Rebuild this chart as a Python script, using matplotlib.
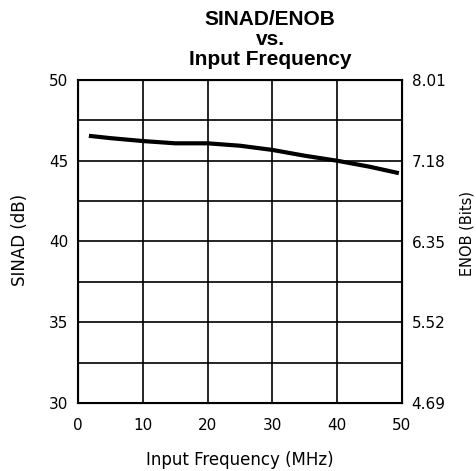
import matplotlib
matplotlib.use("Agg")
import matplotlib.pyplot as plt

freq = [2, 5, 10, 15, 20, 25, 30, 35, 40, 45, 49.2]
sinad = [46.53, 46.40, 46.22, 46.08, 46.08, 45.93, 45.67, 45.31, 45.0, 44.63, 44.26]

left_ticks = [30, 35, 40, 45, 50]
right_ticks = [4.69, 5.52, 6.35, 7.18, 8.01]
x_ticks = [0, 10, 20, 30, 40, 50]
title_lines = ["SINAD/ENOB", "vs.", "Input Frequency"]

W, H = 477, 471
fig = plt.figure(figsize=(W / 100, H / 100), dpi=100)
ax = fig.add_axes([78 / W, 1 - 403 / H, 324 / W, 323 / H])

ax.plot(freq, sinad, color="black", lw=3)
ax.set_xlim(0, 50)
ax.set_ylim(30, 50)
ax.set_xticks(x_ticks)
ax.set_yticks(left_ticks)
ax.set_yticks([32.5, 37.5, 42.5, 47.5], minor=True)
ax.grid(True, which="both", color="black", lw=1.2)
ax.tick_params(which="both", length=0, labelsize=11)
ax.tick_params(axis="y", pad=7)
ax.tick_params(axis="x", pad=11)
for s in ax.spines.values():
    s.set_linewidth(1.5)

ax2 = ax.twinx()
ax2.set_ylim(4.69, 8.01)
ax2.set_yticks(right_ticks)
ax2.set_yticklabels([f"{v:.2f}" for v in right_ticks])
ax2.tick_params(length=0, labelsize=11, pad=7)

# axis labels placed in pixels like the reference
fig.text(240 / W, 1 - 460 / H, "Input Frequency (MHz)", ha="center",
         va="center", fontsize=12)
fig.text(20 / W, 1 - 240 / H, "SINAD (dB)", ha="center", va="center",
         rotation=90, fontsize=12)
fig.text(467 / W, 1 - 233 / H, "ENOB (Bits)", ha="center", va="center",
         rotation=90, fontsize=10.5)

# title, three lines, baselines
for txt, yb in zip(title_lines, [25, 45, 65]):
    fig.text(270 / W, 1 - yb / H, txt, ha="center", va="baseline",
             fontsize=15, fontweight="bold", family="Liberation Sans")

fig.savefig("out.png", dpi=100)
